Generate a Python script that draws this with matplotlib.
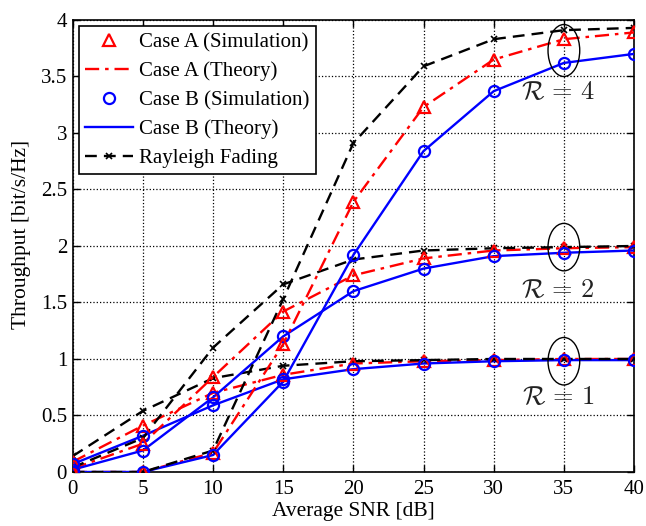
import numpy as np
import matplotlib
matplotlib.use("Agg")
import matplotlib.pyplot as plt
from matplotlib.patches import Ellipse

plt.rcParams['font.family'] = ['Liberation Serif', 'DejaVu Serif']
plt.rcParams['mathtext.fontset'] = 'cm'

snr = [0, 5, 10, 15, 20, 25, 30, 35, 40]

# Rayleigh fading reference, R = 1, 2, 4
rayleigh_r1 = [0.14, 0.54, 0.83, 0.94, 0.98, 0.99, 1.0, 1.0, 1.0]
rayleigh_r2 = [0.04, 0.30, 1.10, 1.66, 1.88, 1.96, 1.98, 1.99, 2.0]
rayleigh_r4 = [0.0, 0.0, 0.19, 1.53, 2.91, 3.59, 3.83, 3.91, 3.93]

# case A
case_a_r1 = [0.09, 0.41, 0.70, 0.86, 0.96, 0.98, 0.99, 1.0, 1.0]
case_a_r2 = [0.03, 0.25, 0.84, 1.42, 1.74, 1.89, 1.96, 1.98, 1.99]
case_a_r4 = [0.0, 0.0, 0.17, 1.13, 2.39, 3.23, 3.65, 3.83, 3.89]

# case B
case_b_r1 = [0.07, 0.32, 0.59, 0.82, 0.91, 0.96, 0.98, 0.99, 0.99]
case_b_r2 = [0.02, 0.19, 0.66, 1.20, 1.60, 1.80, 1.91, 1.94, 1.96]
case_b_r4 = [0.0, 0.0, 0.15, 0.80, 1.92, 2.84, 3.37, 3.62, 3.70]

rates = [1, 2, 4]
label_y = [0.66, 1.61, 3.36]
ellipse_y = [0.98, 1.99, 3.73]
ellipse_h = [0.42, 0.42, 0.46]

fig = plt.figure(figsize=(6.46, 5.26), dpi=100)
ax = fig.add_axes([0.1125, 0.1027, 0.8690, 0.8593])

case_a = [case_a_r1, case_a_r2, case_a_r4]
case_b = [case_b_r1, case_b_r2, case_b_r4]
rayl = [rayleigh_r1, rayleigh_r2, rayleigh_r4]

for i in range(3):
    first = (i == 0)
    ax.plot(snr, case_a[i], ls='none', marker='^', ms=9, mfc='none', mec='red',
            mew=1.6, label='Case A (Simulation)' if first else None, zorder=4)
    ax.plot(snr, case_a[i], color='red', ls=(0, (6, 2.5, 1.5, 2.5)), lw=1.7,
            label='Case A (Theory)' if first else None, zorder=3)
    ax.plot(snr, case_b[i], ls='none', marker='o', ms=8, mfc='none', mec='blue',
            mew=1.6, label='Case B (Simulation)' if first else None, zorder=4)
    ax.plot(snr, case_b[i], color='blue', ls='-', lw=1.7,
            label='Case B (Theory)' if first else None, zorder=3)
    ax.plot(snr, rayl[i], color='black', ls=(0, (5, 3)), lw=1.7, marker='x',
            ms=4, mew=1.2, label='Rayleigh Fading' if first else None, zorder=3)

for i in range(3):
    ax.add_patch(Ellipse((35, ellipse_y[i]), 2.26, ellipse_h[i], fill=False,
                         ec='black', lw=1.0, zorder=5))
    ax.text(34.6, label_y[i], r'$\mathcal{R}\,=\,%d$' % rates[i], fontsize=19,
            ha='center', va='center', color='#222222', zorder=6)

ax.set_xlim(0, 40)
ax.set_ylim(0, 4)
ax.set_xticks(snr)
ax.set_yticks([0, 0.5, 1, 1.5, 2, 2.5, 3, 3.5, 4])
ax.set_yticklabels(['0', '0.5', '1', '1.5', '2', '2.5', '3', '3.5', '4'])
ax.tick_params(direction='in', top=True, right=True, labelsize=15, length=5,
               width=1)
ax.tick_params(axis='x', pad=6)
ax.tick_params(axis='y', pad=4)
ax.grid(True, color='black', ls=':', lw=0.9)
for s in ax.spines.values():
    s.set_linewidth(1.2)

ax.set_xlabel('Average SNR [dB]', fontsize=15.5, labelpad=2)
ax.set_ylabel('Throughput [bit/s/Hz]', fontsize=15.5, labelpad=4)
ax.yaxis.set_label_coords(-0.075, 0.525)

leg = ax.legend(loc='upper left', bbox_to_anchor=(0.0, 1.0), borderaxespad=0.3,
                fontsize=15, handlelength=2.3, handletextpad=0.3,
                labelspacing=0.45, fancybox=False, framealpha=1,
                borderpad=0.3)
leg.get_frame().set_edgecolor('black')
leg.get_frame().set_linewidth(1.2)

fig.savefig('out.png', dpi=100)
